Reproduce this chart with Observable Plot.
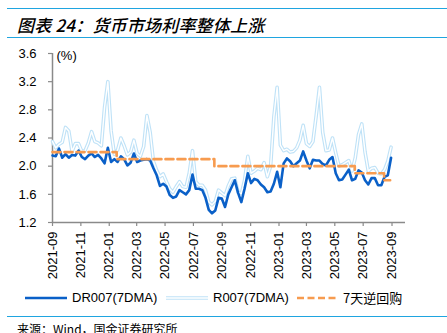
<!DOCTYPE html>
<html><head><meta charset="utf-8">
<script src="https://cdn.jsdelivr.net/npm/d3@7"></script>
<script src="https://cdn.jsdelivr.net/npm/@observablehq/plot@0.6"></script>
<style>
body{margin:0;background:#fff;width:447px;height:333px;overflow:hidden;position:relative;font-family:"Liberation Sans",Arial,sans-serif;color:#000;}
#title{position:absolute;left:7px;top:8px;width:440px;height:28px;border-top:1.5px solid #1FA5E0;border-bottom:1.5px solid #1FA5E0;}
#title span{position:absolute;left:10px;top:3px;font-family:"Noto Sans CJK SC",sans-serif;font-style:italic;font-size:17px;font-weight:500;letter-spacing:0.2px;}
#chart{position:absolute;left:0;top:40px;}
.lg{position:absolute;top:289px;height:18px;}
.lgt{position:absolute;top:290px;font-size:13px;line-height:16px;white-space:nowrap;}
#foot{position:absolute;left:7px;top:316px;width:440px;border-top:1.5px solid #1FA5E0;}
#src{position:absolute;left:17px;top:322px;font-family:"Noto Sans CJK SC",sans-serif;font-size:12px;line-height:14px;white-space:nowrap;}
</style></head>
<body>
<div id="title"><span>图表 24：货币市场利率整体上涨</span></div>
<div id="chart"></div>
<div id="legend"></div>
<div id="foot"></div>
<div id="src">来源：Wind，国金证券研究所</div>
<script>
// weekly samples starting 2021-09-01
const startDate = "2021-09-01";
const dr007 = [2.15,2.14,2.25,2.12,2.17,2.12,2.16,2.15,2.22,2.13,
2.10,2.15,2.18,2.13,2.16,2.11,2.04,2.26,2.06,2.10,
2.06,2.14,2.10,2.01,2.05,2.18,2.06,2.08,2.09,2.10,
2.08,1.97,1.87,1.72,1.75,1.71,1.59,1.55,1.57,1.66,
1.63,1.60,1.66,1.88,1.68,1.68,1.66,1.55,1.38,1.33,
1.37,1.55,1.54,1.42,1.60,1.70,1.80,1.62,1.49,1.68,
1.90,1.76,1.82,1.80,1.74,1.70,1.63,1.64,1.75,1.92,
1.70,2.04,2.11,2.07,2.00,2.04,2.08,2.21,2.08,1.97,
2.09,2.08,2.08,2.03,2.01,2.09,2.13,1.90,1.80,1.81,
1.88,1.95,1.80,1.82,1.94,1.91,1.80,1.74,1.83,1.83,
1.73,1.73,1.85,1.87,2.12];
const r007 = [2.35,2.26,2.31,2.34,2.55,2.50,2.21,2.32,2.32,2.21,
2.22,2.33,2.49,2.35,2.33,2.29,2.84,3.20,2.50,2.17,
2.23,2.40,2.29,2.16,2.20,2.37,2.18,2.14,2.28,2.72,
2.48,2.07,1.94,1.85,1.89,1.78,1.68,1.63,1.71,1.78,
1.71,1.70,1.90,2.22,1.78,1.73,1.73,1.66,1.49,1.45,
1.50,1.66,1.62,1.58,1.72,1.82,1.83,1.63,1.61,1.80,
2.14,1.90,1.93,1.97,1.95,2.05,1.85,2.00,2.70,3.12,
2.30,2.22,2.24,2.20,2.21,2.26,2.37,2.58,2.32,2.28,
2.35,2.72,3.12,2.48,2.22,2.23,2.40,2.19,2.00,2.02,
2.05,2.08,1.93,2.12,2.45,2.60,2.20,1.93,1.97,1.98,
1.90,1.89,1.95,2.07,2.27];
const repoDates = ["2021-09-01","2022-01-17","2022-08-15","2023-06-13","2023-08-15","2023-08-28"];
const repoRates = [2.20,2.10,2.00,1.90,1.80,1.80];
const yTicks = [1.2,1.6,2.0,2.4,2.8,3.2,3.6];
const xTickLabels = ["2021-09","2021-11","2022-01","2022-03","2022-05","2022-07","2022-09","2022-11","2023-01","2023-03","2023-05","2023-07","2023-09"];
const seriesNames = ["DR007(7DMA)","R007(7DMA)","7天逆回购"];

const parse = d3.utcParse("%Y-%m-%d");
const t0 = parse(startDate);
const weekly = dr007.map((v, i) => ({date: d3.utcDay.offset(t0, 7 * i), dr: v, r: r007[i]}));
const repo = repoDates.map((d, i) => ({date: parse(d), v: repoRates[i]}));
const xTicks = xTickLabels.map(s => d3.utcParse("%Y-%m")(s));
const xDomain = [t0, parse("2023-09-30")];

const cDR = "#0A60C8", cR = "#BFE2F7", cRepo = "#F79B4F", axisC = "#8a8a8a";

const chart = Plot.plot({
  width: 447, height: 250,
  marginLeft: 52, marginRight: 42, marginTop: 13, marginBottom: 68,
  x: {type: "utc", domain: xDomain},
  y: {domain: [1.2, 3.6]},
  style: {fontFamily: "'Liberation Sans', Arial, sans-serif", fontSize: "13px", color: "#000", background: "#fff"},
  marks: [
    Plot.axisY({ticks: yTicks, tickFormat: d => d.toFixed(1), tickSize: 4, tickPadding: 12, label: null, stroke: axisC, strokeWidth: 1.2, fontSize: 13}),
    Plot.axisX({ticks: xTicks, tickFormat: d3.utcFormat("%Y-%m"), tickRotate: -90, tickSize: 4, tickPadding: 5, label: null, stroke: axisC, strokeWidth: 1.2, fontSize: 13}),
    Plot.ruleX([t0], {stroke: axisC, strokeWidth: 1.5}),
    Plot.ruleY([1.2], {stroke: axisC, strokeWidth: 1.5}),
    Plot.text(["(%)"], {frameAnchor: "top-left", dx: 4, dy: -3, fontSize: 13, fill: "#000"}),
    Plot.line(weekly, {x: "date", y: "r", stroke: cR, strokeWidth: 3.6}),
    Plot.line(weekly, {x: "date", y: "r", stroke: "#fff", strokeWidth: 1.4}),
    Plot.line(weekly, {x: "date", y: "dr", stroke: cDR, strokeWidth: 2.6}),
    Plot.line(repo, {x: "date", y: "v", stroke: cRepo, strokeWidth: 2.6, strokeDasharray: "8,4", curve: "step-after"})
  ]
});
document.getElementById("chart").appendChild(chart);

// legend
const lg = document.getElementById("legend");
const items = [
  {name: seriesNames[0], sx: 25, sw: 42, tx: 72, kind: "dr"},
  {name: seriesNames[1], sx: 166, sw: 42, tx: 213, kind: "r"},
  {name: seriesNames[2], sx: 297, sw: 40, tx: 343, kind: "repo"}
];
items.forEach(it => {
  let sw;
  if (it.kind === "dr") sw = `<line x1="0" x2="${it.sw}" y1="9" y2="9" stroke="${cDR}" stroke-width="2.6"/>`;
  else if (it.kind === "r") sw = `<line x1="0" x2="${it.sw}" y1="9" y2="9" stroke="${cR}" stroke-width="3.6"/><line x1="0" x2="${it.sw}" y1="9" y2="9" stroke="#fff" stroke-width="1.4"/>`;
  else sw = `<line x1="0" x2="${it.sw}" y1="9" y2="9" stroke="${cRepo}" stroke-width="2.6" stroke-dasharray="7,3.5"/>`;
  const d = document.createElement("div");
  d.className = "lg"; d.style.left = it.sx + "px";
  d.innerHTML = `<svg width="${it.sw}" height="18">${sw}</svg>`;
  lg.appendChild(d);
  const t = document.createElement("div");
  t.className = "lgt"; t.style.left = it.tx + "px";
  if (it.kind === "repo") t.style.fontFamily = "'Noto Sans CJK SC', sans-serif";
  t.textContent = it.name;
  lg.appendChild(t);
});
</script>
</body></html>
